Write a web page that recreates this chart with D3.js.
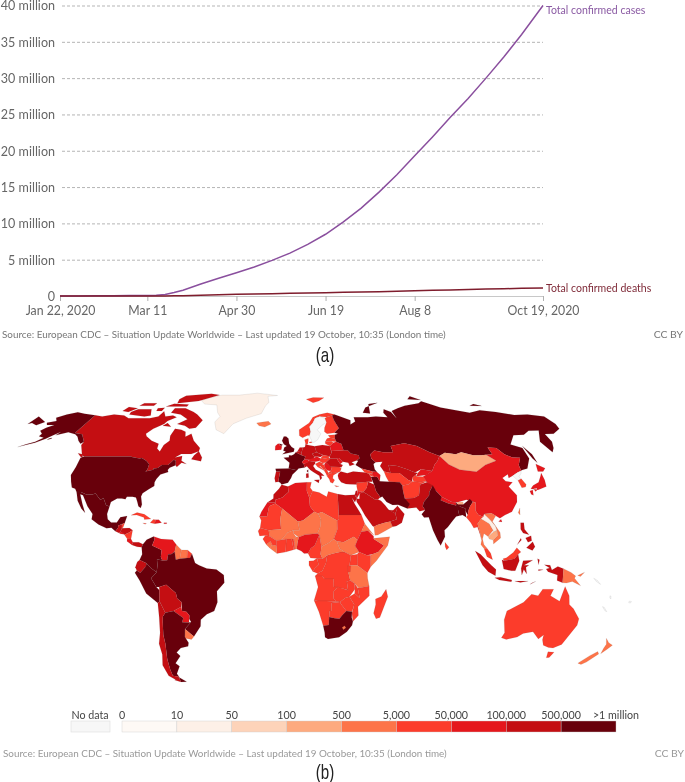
<!DOCTYPE html>
<html>
<head>
<meta charset="utf-8">
<script src="https://cdn.jsdelivr.net/npm/d3@7"></script>
<style>
html, body { margin: 0; padding: 0; background: #fff; }
svg { display: block; filter: blur(0.3px); }
text { font-family: Lato, "Open Sans", sans-serif; }
</style>
</head>
<body>
<script>
// chart (a) values
var dateValues = ["2020-01-22","2020-02-01","2020-02-11","2020-02-21","2020-03-01","2020-03-11","2020-03-16","2020-03-21","2020-03-26","2020-03-31","2020-04-10","2020-04-20","2020-04-30","2020-05-10","2020-05-20","2020-05-30","2020-06-09","2020-06-19","2020-06-29","2020-07-09","2020-07-19","2020-07-29","2020-08-08","2020-08-18","2020-08-28","2020-09-07","2020-09-17","2020-09-27","2020-10-07","2020-10-19"];
var casesValues = [0.0006,0.012,0.03,0.05,0.06,0.08,0.12,0.22,0.47,0.8,1.65,2.45,3.2,4.0,4.9,5.9,7.1,8.5,10.2,12.1,14.3,16.7,19.3,21.9,24.6,27.2,30.0,32.9,36.0,40.0];
var deathsValues = [0,0.0003,0.001,0.002,0.003,0.0046,0.007,0.013,0.025,0.042,0.1,0.165,0.23,0.28,0.325,0.37,0.41,0.455,0.5,0.55,0.6,0.66,0.72,0.78,0.84,0.89,0.95,1.0,1.05,1.11];
var yTicks = [0,5,10,15,20,25,30,35,40];
var xTickDates = ["2020-01-22","2020-03-11","2020-04-30","2020-06-19","2020-08-08","2020-10-19"];
var xTickLabels = ["Jan 22, 2020","Mar 11","Apr 30","Jun 19","Aug 8","Oct 19, 2020"];
var seriesLabels = ["Total confirmed cases","Total confirmed deaths"];
var sourceText = "Source: European CDC – Situation Update Worldwide – Last updated 19 October, 10:35 (London time)";

// chart (b) legend
var legendBreaks = ["0","10","50","100","500","5,000","50,000","100,000","500,000",">1 million"];
var binColors = ["#fef9f5","#fdf0e7","#fdd3b9","#fdaa7f","#fd7449","#fc3c2b","#e5171c","#c40e12","#68000b"];
var noDataColor = "#f7f7f7";

// Robinson table
var robLat = d3.range(0, 95, 5);
var robLength = [1,.9986,.9954,.99,.9822,.973,.96,.9427,.9216,.8962,.8679,.835,.7986,.7597,.7186,.6732,.6213,.5722,.5322];
var robDepth = [0,.062,.124,.186,.248,.31,.372,.434,.4958,.5571,.6176,.6769,.7346,.7903,.8435,.8936,.9394,.9761,1];

// country outlines: name, colour bin (-1 = no data), rings in lon/lat
var americas = [
 ["Greenland",1,[[[-73,78.2],[-68,76],[-58,75.5],[-54,71],[-51,69],[-53,66],[-50,62],[-44,60],[-40,65],[-32,68],[-22,70.5],[-20,75],[-18,77],[-20,81],[-12,81.7],[-30,83.5],[-45,82],[-60,82],[-68,80]]]],
 ["Canada",7,[[[-141,69.6],[-135,69],[-128,70],[-120,69.5],[-115,68],[-108,68],[-100,68],[-95,69],[-94,71.8],[-90,69],[-85,69.5],[-81.5,68.5],[-86,66.5],[-87,65],[-92,62.5],[-94.5,60],[-93,58.7],[-88,56.5],[-82.5,55],[-82,52.8],[-79.5,51.3],[-79,54.5],[-76.7,56.5],[-78,59],[-77.5,62.5],[-73,62],[-69.5,61],[-68,58.5],[-65,60],[-61.5,56.5],[-56,53],[-56,51.5],[-60,50.2],[-66,50.2],[-69,48.5],[-65,49.2],[-64.5,47],[-61,45.5],[-64,46],[-66,44],[-67,44.9],[-67.8,47],[-69.2,47.4],[-70.3,46.2],[-71.5,45],[-75,45],[-76.8,43.6],[-79,43.3],[-79,42.8],[-83.1,42],[-82.4,43],[-82.5,45.3],[-84.9,46.9],[-88.4,48.3],[-89.6,48],[-94.6,48.7],[-95.2,49],[-123,49],[-124.7,49.5],[-130,54.5],[-130,56],[-135.5,59.7],[-141,60.3]],
  [[-80,73.5],[-72,71.5],[-68,70],[-62,67],[-64,63],[-68,62.5],[-72,64],[-78,65],[-73,67.5],[-80,70],[-88,71],[-88,73.5]],
  [[-117,70],[-105,69],[-101,69.5],[-105,73],[-115,73],[-118,71.5]],
  [[-125,72],[-120,71.5],[-116,73.5],[-124,74.3]],
  [[-90,76.5],[-75,78],[-62,82],[-70,83],[-90,81.5],[-92,79]],
  [[-117,75],[-106,75],[-106,76.5],[-116,76.5]],
  [[-96,74.5],[-80,74.5],[-80,75.7],[-92,76.2]],
  [[-59,47.7],[-53,46.7],[-53,48.5],[-56,51.5],[-58,49.5]],
  [[-87,64],[-81,63.5],[-85,65.5]],
  [[-128,50.5],[-125,50],[-123.5,48.5],[-125,48.8]],
  [[-100,72],[-96,72],[-96,73.8],[-101,73.6]]]],
 ["USA",8,[[[-124.7,48.4],[-123,49],[-95.2,49],[-94.6,48.7],[-89.6,48],[-88.4,48.3],[-84.9,46.9],[-82.5,45.3],[-82.4,43],[-83.1,42],[-79,42.8],[-79,43.3],[-76.8,43.6],[-75,45],[-71.5,45],[-70.3,46.2],[-69.2,47.4],[-67.8,47],[-67,44.9],[-70,43.7],[-70.7,42.7],[-70,41.7],[-74,40.6],[-75.5,38.5],[-76,37],[-75.6,35.3],[-78,33.9],[-81,32],[-81.4,30.5],[-80.1,26.8],[-80.4,25.2],[-81.8,26],[-82.8,28],[-84,30],[-86,30.4],[-89,30.3],[-89.5,29.2],[-91.5,29.5],[-94,29.6],[-97,28],[-97.2,25.9],[-99.2,26.5],[-101.4,29.7],[-103,29],[-104.9,30.6],[-106.5,31.8],[-108.2,31.4],[-111,31.3],[-114.8,32.5],[-117.1,32.5],[-118.5,34],[-120.6,34.6],[-122.4,37.2],[-124.3,40.3],[-124,44]],
  [[-156.7,71.3],[-150,70.4],[-141,69.6],[-141,60.3],[-135.5,59.7],[-130,56],[-131,55],[-134,56.5],[-137,58.5],[-140,59.7],[-146,60.8],[-149,60],[-152,59.2],[-151,61],[-154,59],[-156,57.5],[-160,55.5],[-164,54.6],[-168,53.5],[-164.5,54.8],[-160.5,56],[-158,58],[-162,58.7],[-162,60],[-165.5,61.5],[-164,63],[-161,64.5],[-166,64.5],[-168,65.6],[-163,66.5],[-166.5,68.3],[-162,70]],
  [[-154.5,57],[-152.5,57.5],[-152.5,58],[-154,57.6]]]],
 ["Mexico",8,[[[-117.1,32.5],[-114.8,32.5],[-111,31.3],[-108.2,31.4],[-106.5,31.8],[-104.9,30.6],[-103,29],[-101.4,29.7],[-99.2,26.5],[-97.2,25.9],[-97.8,22.5],[-97,20],[-95,18.6],[-92,18.6],[-90.5,21],[-87,21.5],[-87.8,18.3],[-89,17.9],[-91,17.2],[-91,16],[-92.2,14.6],[-94.5,16.2],[-97,15.9],[-101.5,17.6],[-105.5,20],[-105.5,22.5],[-109,26],[-113,31],[-114.7,31.5],[-112,27],[-109.6,23],[-112,25],[-115,28.5]]]],
 ["Guatemala",7,[[[-92.2,14.6],[-91,16],[-91,17.2],[-89.2,17.8],[-88.9,16],[-89.5,14.3],[-90.2,13.8]]]],
 ["Belize",5,[[[-89,17.9],[-87.8,18.3],[-88.4,16.3],[-89.2,15.9]]]],
 ["Honduras",7,[[[-89.5,14.3],[-88.9,15.9],[-85,16],[-83.2,15],[-85,14],[-87.3,13]]]],
 ["El Salvador",6,[[[-90.2,13.8],[-89.5,14.3],[-87.7,13.8],[-87.8,13.2],[-89.5,13.4]]]],
 ["Nicaragua",5,[[[-87.3,13],[-85,14],[-83.2,15],[-83.7,11],[-85.7,11.1]]]],
 ["Costa Rica",6,[[[-85.7,11.1],[-83.7,11],[-82.6,9.5],[-83,8.3],[-85.7,10]]]],
 ["Panama",7,[[[-83,8.3],[-82.6,9.5],[-79.5,9.5],[-77.3,8.6],[-77.9,7.2],[-80.3,7.4]]]],
 ["Cuba",5,[[[-85,21.9],[-82,23.1],[-78,22.3],[-74.2,20.2],[-77.7,19.9],[-78,20.8],[-82,22]]]],
 ["Jamaica",5,[[[-78.3,18.3],[-76.3,18.1],[-77,17.8]]]],
 ["Haiti",5,[[[-74.4,18.4],[-72,18],[-71.7,19.8],[-73,19.9]]]],
 ["Dominican Republic",6,[[[-72,18],[-68.4,18.5],[-70,19.8],[-71.7,19.8]]]],
 ["Puerto Rico",6,[[[-67.2,18],[-65.7,18],[-65.7,18.5],[-67.2,18.5]]]],
 ["Colombia",8,[[[-77.3,8.6],[-75.5,10.7],[-72,12.2],[-71.3,11],[-72.5,8],[-70,7],[-67.5,6],[-67.8,2.8],[-67,1.2],[-69.8,1.7],[-69.5,-1],[-70,-4.2],[-73,-2.3],[-75.2,-0.1],[-78.8,1.4],[-77.5,4],[-77.9,7.2]]]],
 ["Venezuela",6,[[[-72,12.2],[-68,11],[-62,10.7],[-60,8.5],[-60.7,5.2],[-62.5,4],[-64,4],[-64.5,1.3],[-67,1.2],[-67.8,2.8],[-67.5,6],[-70,7],[-72.5,8],[-71.3,11]]]],
 ["Guyana",4,[[[-60,8.5],[-57.2,6],[-58,2],[-60,1.5],[-60.7,5.2]]]],
 ["Suriname",4,[[[-57.2,6],[-54,5.9],[-54.2,2.3],[-58,2]]]],
 ["French Guiana",5,[[[-54,5.9],[-51.7,4.2],[-52.7,2.3],[-54.2,2.3]]]],
 ["Ecuador",7,[[[-78.8,1.4],[-75.2,-0.1],[-75.5,-1.5],[-78.5,-4.5],[-80.3,-3.4],[-81,-2],[-80,0.5]]]],
 ["Peru",8,[[[-81.3,-4.5],[-80.3,-3.4],[-78.5,-4.5],[-75.5,-1.5],[-75.2,-0.1],[-73,-2.3],[-70,-4.2],[-73,-7],[-70.5,-11],[-69,-12.5],[-69.4,-17.5],[-70.4,-18.3],[-76,-14],[-79,-8]]]],
 ["Brazil",8,[[[-51.7,4.2],[-50,0],[-48,-1],[-44,-2.5],[-39,-3],[-35.2,-5.5],[-35,-9],[-39,-13],[-39,-18],[-41,-22],[-45,-23.5],[-48.5,-26],[-49,-29],[-53.4,-33.7],[-57.6,-30.2],[-53.8,-27],[-54.6,-25.5],[-54.3,-24],[-55.8,-22.3],[-58,-22],[-57.8,-18],[-60,-16.3],[-60.5,-13.7],[-65.3,-10],[-69,-11],[-70.5,-11],[-73,-7],[-70,-4.2],[-69.5,-1],[-69.8,1.7],[-67,1.2],[-64.5,1.3],[-64,4],[-62.5,4],[-60.7,5.2],[-60,1.5],[-58,2],[-54.2,2.3],[-52.7,2.3]]]],
 ["Bolivia",7,[[[-69,-11],[-65.3,-10],[-60.5,-13.7],[-60,-16.3],[-57.8,-18],[-58.2,-20],[-62.5,-22],[-67,-22.8],[-69.4,-17.5],[-69,-12.5]]]],
 ["Paraguay",6,[[[-58,-22],[-55.8,-22.3],[-54.3,-24],[-54.6,-25.5],[-55,-27.3],[-58.6,-27.2],[-57.7,-25.2],[-62.5,-22],[-58.2,-20]]]],
 ["Uruguay",4,[[[-58.4,-33.9],[-57.6,-30.2],[-53.4,-33.7],[-55,-35],[-58.4,-34.5]]]],
 ["Argentina",8,[[[-67,-22.8],[-62.5,-22],[-57.7,-25.2],[-58.6,-27.2],[-55,-27.3],[-53.8,-27],[-57.6,-30.2],[-58.4,-33.9],[-57,-36.5],[-57.7,-38.2],[-62,-39],[-65,-41],[-63.5,-42.7],[-67.5,-46],[-65.8,-47.5],[-69,-51],[-68.4,-52.4],[-72,-52],[-72,-49],[-71.5,-44],[-70,-37],[-70,-33],[-69,-27],[-68.5,-24.5]],
  [[-68.6,-52.6],[-65,-54.8],[-68.6,-54.9]]]],
 ["Chile",7,[[[-69.4,-17.5],[-67,-22.8],[-68.5,-24.5],[-69,-27],[-70,-33],[-70,-37],[-71.5,-44],[-72,-49],[-72,-52],[-68.4,-52.4],[-71,-54],[-74.5,-52],[-75.5,-47],[-73.5,-42],[-73.5,-37],[-71.5,-32],[-70.5,-25],[-70.4,-18.3]],
  [[-68.6,-52.6],[-68.6,-54.9],[-72,-54]]]]
];

var europe = [
 ["Iceland",4,[[[-24,65.5],[-22,64],[-18,63.4],[-14,65],[-16,66.4],[-20,66]]]],
 ["Svalbard",5,[[[12,79],[17,76.8],[22,78],[27,80],[18,80.2]]]],
 ["Norway",5,[[[5,59],[7,58],[10.5,59.2],[11.5,59],[12.5,61],[12,63.5],[14.5,65.5],[16.5,68],[20,69],[25,68.7],[29,69.5],[31,70],[26,71],[20,70],[15,68.5],[12,65.5],[5,62]]]],
 ["Sweden",-1,[[[11.5,59],[13,55.5],[14.5,56],[16.5,57],[19,60],[17,62],[21,64.5],[24,65.8],[23.5,68],[20,69],[16.5,68],[14.5,65.5],[12,63.5],[12.5,61]]]],
 ["Finland",5,[[[24,65.8],[22,63],[21.5,61],[23,60],[28,60.5],[31.5,62.8],[29.5,67],[29,69.5],[25,68.7],[23.5,68]]]],
 ["Denmark",5,[[[8.7,54.9],[10,54.8],[10.5,56.5],[10.6,57.7],[8.2,57]],[[11,55.5],[12.5,55.4],[12.5,56.1],[11,55.9]]]],
 ["UK",8,[[[-5.5,50],[1.3,51.2],[1.7,52.7],[0,53.5],[-1.5,55],[-2,57.6],[-3.5,58.6],[-5,58.6],[-6,56.5],[-4.8,54.8],[-3,54],[-4.5,53.3],[-5,51.7],[-3.5,51.3]],[[-7.3,55.1],[-5.5,54.6],[-6.2,54.1],[-7.5,54.3]]]],
 ["Ireland",6,[[[-10,52],[-6.3,52.2],[-6,53.5],[-6.2,54.1],[-7.5,54.3],[-7.3,55.1],[-8.5,55],[-10,54]]]],
 ["Spain",8,[[[-9.2,43.2],[-1.7,43.4],[3.1,42.5],[0.5,40.6],[-0.3,39],[-2,36.8],[-5.5,36],[-6.4,36.9],[-7.4,37.2],[-7,39.5],[-6.5,41.9],[-8.8,42]]]],
 ["Portugal",7,[[[-8.8,42],[-6.5,41.9],[-7,39.5],[-7.4,37.2],[-9,37],[-9.5,38.8]]]],
 ["France",8,[[[-1.7,43.4],[3.1,42.5],[4,43.4],[7.5,43.8],[7,45.5],[6,46.3],[7.5,47.6],[8.2,49],[6,49.5],[2.5,51],[1.5,50],[0,49.4],[-1.6,49.6],[-1.6,48.6],[-4.7,48.4],[-1.2,46]],[[8.6,42.2],[9.4,41.5],[9.5,42.9]]]],
 ["Belgium",7,[[[2.5,51],[3.5,51.4],[6,51],[6,49.5]]]],
 ["Netherlands",7,[[[3.5,51.4],[6,51],[7,53.3],[5,53.3]]]],
 ["Germany",7,[[[6,51],[6,49.5],[8.2,49],[7.5,47.6],[9.6,47.5],[13,47.5],[13,48.3],[13.8,48.8],[12.2,50.3],[15,51],[14.2,53.9],[10,54.5],[8.7,54.9],[8.2,53.5],[7,53.3]]]],
 ["Italy",7,[[[7.5,43.8],[8.8,44.4],[10.5,42.8],[12.3,41.7],[15.6,40],[16,38],[17,39],[16.6,40],[18.4,40],[16,41.8],[13.8,42.8],[12.4,44.5],[13.7,45.7],[13.7,46.5],[10.5,46.9],[7,45.5]],[[12.5,38],[15.5,38.2],[15,36.7]],[[8.2,39],[9.6,39.2],[9.5,41.2],[8.2,40.9]]]],
 ["Switzerland",6,[[[6,46.3],[7,45.5],[10.5,46.5],[9.6,47.5],[7.5,47.6]]]],
 ["Austria",6,[[[9.6,47.5],[10.5,46.9],[13.7,46.5],[16.2,46.9],[17,48],[15,49],[13,48.3]]]],
 ["Poland",7,[[[14.2,53.9],[15,51],[19,49.5],[22.5,49.1],[24,50.5],[23.5,54],[19,54.4]]]],
 ["Czechia",7,[[[12.2,50.3],[13.8,48.8],[15,49],[17,48.7],[18.8,49.5],[15,51]]]],
 ["Slovakia",5,[[[17,48],[18.8,49.5],[22.5,49.1],[22,48.4],[18,47.8]]]],
 ["Hungary",5,[[[16.2,46.9],[17,48],[18,47.8],[22,48.4],[22.8,48],[20,46.2],[18,45.9]]]],
 ["Croatia",5,[[[13.7,45.5],[16.2,46.5],[19,45.5],[16,44.5],[18.5,42.4],[15,44]]]],
 ["Bosnia",5,[[[16,45],[19,45],[19.3,43.5],[18.5,42.6]]]],
 ["Serbia",6,[[[19,45.5],[20,46.2],[22.5,44.5],[22.9,43],[22,42.2],[20.2,42.5],[19.3,43.5],[19,45]]]],
 ["Albania",5,[[[18.5,42.4],[19.3,43.5],[20.2,42.5],[21,41],[20,39.7],[19.4,41]]]],
 ["North Macedonia",5,[[[20.5,41],[22,42.2],[23,41.3]]]],
 ["Bulgaria",5,[[[22.9,43],[22.5,44.2],[27.5,44],[28.5,43.3],[27.6,42],[26,41.4],[23,41.3],[22,42.2]]]],
 ["Romania",7,[[[20,46.2],[22.8,48],[26.5,48.2],[28.2,45.5],[29.6,45],[28.5,43.8],[27.5,44],[22.5,44.2]]]],
 ["Moldova",6,[[[26.5,48.2],[28,48.3],[30,46.5],[28.2,45.5]]]],
 ["Greece",5,[[[20,39.7],[21,41],[23,41.3],[26,41.4],[23.5,40.2],[23,38.8],[24,38],[22.8,36.5],[21.5,37],[21,38.5]],[[23.6,35.5],[26.2,35.2],[24.5,34.9]]]],
 ["Ukraine",7,[[[24,50.5],[22.5,49.1],[22.8,48],[26.5,48.2],[28,48.3],[30,46.5],[33,46],[33.5,44.5],[36.5,45.3],[35,46.3],[38,47.1],[40,48],[40,49.6],[35.5,50.4],[34,52],[31.5,52],[24,51.6]]]],
 ["Belarus",6,[[[23.5,54],[24,51.6],[31.5,52],[30.8,55],[28,56],[26,55.5]]]],
 ["Lithuania",5,[[[21,56],[21,55],[23.5,54],[26,55.5],[25,56.3]]]],
 ["Latvia",5,[[[21,56],[25,56.3],[28,56],[27.5,57.5],[24.5,58],[22.5,57.6]]]],
 ["Estonia",5,[[[23.5,59.2],[28,59.5],[27.5,57.5],[24.5,58]]]]
];

var asia = [
 ["Russia",8,[[[28,59.5],[30,60],[28,60.5],[31.5,62.8],[29.5,67],[29,69.5],[31,70],[41,67],[40,64.7],[44,66.3],[44,68.5],[54,68.5],[60,69],[68,68.5],[67,71],[69,73],[73,71.5],[74,68],[74,72],[80,73.5],[87,75],[100,76.5],[104,77.7],[113,74],[130,71],[140,72.5],[150,71.5],[160,69.7],[170,70],[180,69],[180,65],[178,62.5],[170,60],[164,59.8],[163,56],[160,53],[157,51],[155.5,56],[163,61.7],[156,61.5],[150,59.5],[143,59.3],[135.5,54.7],[141,53],[140,48],[135,43.3],[131,42.5],[130.7,42.3],[131.3,45],[135,48.4],[130.5,48.5],[127,50],[125,53],[120,53.3],[119.8,50],[116,49.8],[113,49.6],[108,49.5],[102,51],[98,50],[92,50.8],[87.8,49.2],[83,51],[77,54],[70,55.3],[61,54],[61,51],[55,51],[50,51.8],[47,50],[47,48],[49,46.3],[47.5,45.5],[47.5,43],[48.4,41.7],[46,42],[40,43.4],[37,45],[39,47],[38,47.1],[40,48],[40,49.6],[35.5,50.4],[34,52],[31.5,52],[30.8,55],[28,56],[27.5,57.5]],
  [[-180,68.9],[-175,67.5],[-170,66],[-173,64.3],[-178,65.5],[-180,65]],
  [[142,54],[143.5,50],[143,46],[142,48]],
  [[52,71],[57,70.6],[60,76],[68,76.8],[56,74]],
  [[95,79],[105,78.5],[100,81]],
  [[137,75],[146,74.8],[142,76]]]],
 ["Kazakhstan",7,[[[47,50],[50,51.8],[55,51],[61,51],[61,54],[70,55.3],[77,54],[83,51],[87.8,49.2],[85.5,47],[82.8,45.2],[80,42.2],[74,43],[70,41.5],[66,43],[61,44.5],[56,45],[56,41.3],[52.5,42],[51,44.5],[53,46.5],[49,46.3],[47,48]]]],
 ["Mongolia",3,[[[87.8,49.2],[92,50.8],[98,50],[102,51],[108,49.5],[113,49.6],[116,49.8],[119.8,47],[112,45],[105,41.8],[96,42.8],[91,45.2]]]],
 ["China",6,[[[73.7,39.5],[80,42.2],[82.8,45.2],[85.5,47],[87.8,49.2],[91,45.2],[96,42.8],[105,41.8],[112,45],[119.8,47],[116,49.8],[119.8,50],[120,53.3],[125,53],[127,50],[130.5,48.5],[135,48.4],[131.3,45],[130.7,42.3],[128,41.5],[124.3,40],[121.5,39],[122,40.7],[118,39],[119,37.5],[122.5,37],[119.3,35],[122,31],[121,28],[117,23.5],[113,22],[110,20.5],[108,21.6],[106,22.8],[102,22.5],[101.5,21.2],[99,22],[97.7,24],[98.7,27.7],[94,29],[89,27.8],[86,28],[81,30.3],[78.8,33],[75,37]],[[109,19],[110.5,20],[110.8,18.8]]]],
 ["Taiwan",4,[[[120.2,23],[121.6,25.2],[121,22]]]],
 ["North Korea",-1,[[[124.3,40],[128,41.5],[130.7,42.3],[129.7,41],[127.5,39.5],[128.3,38.6],[126,37.8]]]],
 ["South Korea",5,[[[126,37.8],[128.3,38.6],[129.5,36],[128.5,34.8],[126.3,34.5]]]],
 ["Japan",6,[[[131,34],[135,33.6],[140,35],[141,38],[141.3,41.3],[140,40],[137,37],[133,35.5]],[[140,42],[141.5,45.4],[145.3,43.5],[143,42]],[[130,33],[131.8,33.5],[131,31],[130,31.5]],[[132.5,34],[134.5,34.2],[134,33.3],[133,32.8]]]],
 ["Kyrgyzstan",6,[[[74,43],[80,42.2],[76,40.4],[70,39.8],[71.5,41.3]]]],
 ["Uzbekistan",7,[[[56,41.3],[56,45],[61,44.5],[66,43],[70,41.5],[71.5,41.3],[70,40.5],[67.5,39],[67,37.3],[65,38],[61,41.3]]]],
 ["Turkmenistan",5,[[[52.5,42],[56,41.3],[61,41.3],[65,38],[67,37.3],[64.5,36],[61,35.5],[60,37],[54,37.2],[53,39.5]]]],
 ["Tajikistan",5,[[[70,40.5],[70,39.8],[74,39.5],[75,37.5],[71.5,37],[67.8,37.2],[67.5,39]]]],
 ["Afghanistan",5,[[[61,35.5],[64.5,36],[67,37.3],[71.5,37],[75,37.4],[71,36],[70,33.5],[69,31],[66,29.8],[61,29.5],[60.8,33]]]],
 ["Pakistan",7,[[[61,29.5],[66,29.8],[69,31],[70,33.5],[71,36],[75,37],[77.8,35.5],[75,32.5],[74.5,31],[71,28],[70,26],[71,24.3],[68,23.7],[66.5,25.4],[61.6,25]]]],
 ["Iran",8,[[[44.5,39.4],[48,39.5],[49,37.5],[54,37.2],[60,37],[61,35.5],[60.8,33],[61,29.5],[63.3,27],[61.6,25],[57,26.7],[54,26.6],[51,28],[49,30.5],[48,30],[46,33],[45.5,36]]]],
 ["Iraq",7,[[[42.4,37.2],[45.5,36],[46,33],[48,30],[47.7,30],[46.5,29.1],[44.7,29.2],[41,31.5],[39,32.5],[41.2,34.5]]]],
 ["Syria",5,[[[36,36.8],[42.4,37.2],[41.2,34.5],[39,32.5],[36,33],[35.8,35]]]],
 ["Jordan",6,[[[35,29.4],[37,31.8],[39,32.5],[36,33],[35.5,31.5]]]],
 ["Israel",7,[[[34.3,31.3],[35,29.5],[35.5,31.5],[35.8,33.2],[35,33]]]],
 ["Turkey",7,[[[26,40],[26.5,41],[28,42],[31.5,41.2],[35,42],[41.5,41.5],[43.5,41],[44.5,39.4],[44.8,37.2],[42.4,37.2],[36,36.8],[36,36],[32,36.1],[30,36.2],[27.5,37],[26.3,38.5]]]],
 ["Georgia",5,[[[40,43.4],[46,42],[46,41.2],[43.5,41],[41.5,41.5]]]],
 ["Armenia",5,[[[43.5,41],[45,41],[46.3,39.4],[44.5,39.8]]]],
 ["Azerbaijan",6,[[[46,42],[48.4,41.7],[50,40.3],[49,37.5],[48,39.5],[46.3,39.4],[45,41],[46,41.2]]]],
 ["Saudi Arabia",7,[[[34.8,29.5],[36.5,29.3],[37,31.8],[39,32.5],[41,31.5],[44.7,29.2],[46.5,29.1],[48,28.5],[50,26.5],[51.5,24.5],[55,22.7],[55.5,20],[52,19],[49,18.5],[45,17.4],[43.2,16.6],[42.5,17],[39,21.5],[37,25],[35,28]]]],
 ["Yemen",4,[[[43.2,16.6],[45,17.4],[49,18.5],[52,19],[53,16.6],[45,12.8],[43.5,12.7]]]],
 ["Oman",7,[[[52,19],[55.5,20],[55,22.7],[56,24.5],[56.4,26.3],[59.8,22.5],[58,18.5],[55,17],[53,16.6]]]],
 ["UAE",7,[[[51.5,24.2],[55,22.7],[56,24.5],[56.4,26],[54,24.2]]]],
 ["Nepal",6,[[[80,30],[81,30.3],[86,28],[88.2,27.8],[88,26.4],[84,27.3],[80.2,28.7]]]],
 ["India",8,[[[74.5,31],[75,32.5],[77.8,35.5],[78.8,33],[81,30.3],[80.2,28.7],[84,27.3],[88,26.4],[88.2,27.8],[88.8,27],[92,26.9],[96,29.3],[97.3,28],[95.3,26],[94,24],[93.3,22],[92.3,24],[92.5,25],[89.8,25.9],[88.5,24.5],[88.8,21.7],[87,21.3],[85,19.5],[82,16.5],[80,15],[80,12],[77.5,8],[76,10.5],[74,15],[72.7,20],[72.5,21],[70,20.8],[68.9,22.3],[71,24.3],[70,26],[71,28]]]],
 ["Bhutan",3,[[[88.8,27.8],[92,28],[92,26.9],[89,26.8]]]],
 ["Bangladesh",8,[[[88,26.4],[89.8,25.9],[92.5,25],[92.3,21],[90.5,22],[88.8,21.7],[88.5,24.5]]]],
 ["Sri Lanka",5,[[[79.8,9.5],[81.8,7.2],[80.5,6],[79.8,7.5]]]],
 ["Myanmar",5,[[[92.3,21],[93.3,22],[94,24],[95.3,26],[97.3,28],[98.7,27.7],[97.7,24],[99,22],[101.5,21.2],[100,20.3],[97.8,18],[98.5,14],[99,10.5],[98.5,13],[97.5,16.5],[95.5,16],[94.3,18.5]]]],
 ["Thailand",4,[[[100,20.3],[101.5,19.5],[104,18],[105.5,15],[102.5,12.2],[100.5,13.5],[99.5,11],[100,8.5],[101.5,6.8],[100,6.5],[98.4,8.5],[99,10.5],[98.5,14],[97.8,18]]]],
 ["Laos",1,[[[101.5,21.2],[102,22.5],[104.5,20],[107,17],[107.5,15],[105.5,14.2],[105.5,15],[104,18],[101.5,19.5],[100,20.3]]]],
 ["Vietnam",4,[[[102,22.5],[106,22.8],[108,21.6],[105.8,19],[109,14],[109,11.5],[105,8.7],[105,10.5],[107.5,12.5],[107.5,15],[107,17],[104.5,20]]]],
 ["Cambodia",3,[[[102.5,12.2],[105.5,14.2],[107.5,15],[107.5,12.5],[105,10.5],[103,11]]]],
 ["Malaysia",5,[[[100,6.5],[101.5,6.8],[103.3,4.5],[104.2,1.5],[101.3,2.9]],[[109.6,2],[111.4,2.4],[115,4.8],[117,7],[119,5],[117.5,4],[115.6,2],[113,1.5],[110,1]]]],
 ["Indonesia",7,[[[95.3,5.5],[98,4],[103.5,-1],[106,-3],[105.8,-5.8],[102,-4],[99,-1]],[[105.5,-6.8],[108.5,-6.5],[114.5,-7.8],[114.3,-8.6],[108,-7.8]],[[109,1.5],[110,1],[113,1.5],[115.6,2],[117.5,4],[118,1],[116,-3.5],[114,-3.6],[110,-2.8]],[[119.5,-5.5],[120.4,-3],[122,-5],[121.5,-2],[123,-1],[120.5,-1],[125,1.3],[120,1],[119,-2.5]],[[131,-0.8],[134,-1],[135,-3.2],[138,-1.6],[141,-2.6],[141,-9.1],[138,-8],[138,-5.5],[133,-4],[132,-2.8],[133.8,-2.3]],[[116,-8.3],[123,-8.3],[119,-8.9]],[[124,-9.8],[127,-8.4],[125,-9.2]],[[128,-3],[130.5,-3.1],[128,-3.5]],[[127.5,2],[128.5,1.5],[128,-0.8]]]],
 ["Papua New Guinea",4,[[[141,-2.6],[145,-4.3],[147.5,-6],[147,-7],[150.5,-10.4],[146,-8.5],[143,-9.2],[141,-9.1]],[[148.5,-5.7],[152,-4.2],[150,-6.2]]]],
 ["Philippines",7,[[[120.5,18.5],[122.2,18.4],[122,15.5],[124,13],[121,13.7],[120,15.5]],[[122,7],[125.5,9.7],[126.5,7.5],[125,5.7]],[[122,11.5],[125,12.5],[125,10.2],[123,9.5]],[[117.3,8.4],[119.5,11.3],[119.7,10.5]]]],
 ["Australia",5,[[[114,-22],[122,-18],[125.5,-14.3],[129,-15],[131,-12],[136.7,-12],[135.5,-15],[140.8,-17.5],[142.5,-10.8],[145.3,-15],[146.3,-19],[149,-21],[153.2,-25.5],[153.5,-28.5],[150,-37.3],[146.3,-39],[143.5,-38.7],[140,-37.7],[138,-35.2],[137.5,-33],[135.5,-34.8],[131,-31.5],[126,-32.3],[123.5,-33.9],[118,-35],[115,-34.3],[115.8,-32],[113.5,-26]],[[144.7,-40.7],[148.3,-40.9],[147.5,-43.3],[146,-43.5]]]],
 ["New Zealand",4,[[[172.7,-34.5],[175.5,-36.5],[178.5,-37.7],[177,-39.5],[175.3,-41.6],[174.7,-39],[174.7,-37.2]],[[172.7,-40.6],[174.3,-41.7],[171,-45.5],[169,-46.6],[166.5,-46],[170,-42.5]]]],
 ["New Caledonia",-1,[[[164,-20],[165,-20.3],[167,-22.3],[166,-22]]]],
 ["Fiji",-1,[[[177.3,-17.5],[178.6,-17.6],[178.3,-18.3],[177.3,-18.2]]]],
 ["Solomon Islands",-1,[[[157,-7],[159,-8],[160.8,-9.8],[158.5,-8.5]]]],
 ["Vanuatu",-1,[[[166.6,-15],[167.2,-15.2],[167.5,-16.5],[166.8,-16]]]]
];

var africa = [
 ["Morocco",7,[[[-13,27.7],[-8.7,27.7],[-8.7,29],[-5,30],[-1.7,32.5],[-2,35],[-5.5,35.9],[-6.9,34],[-9.8,31.4],[-9.8,29.5]]]],
 ["Western Sahara",6,[[[-17,21.3],[-13,21.3],[-12,26],[-8.7,27.3],[-8.7,27.7],[-13,27.7],[-16,23.5]]]],
 ["Algeria",6,[[[-8.7,27.3],[-8.7,29],[-5,30],[-1.7,32.5],[-2,35],[2,36.7],[8.5,37],[8.3,33],[9.5,30],[9.8,26],[12,23.5],[6,19.5],[3.3,19],[-5,25]]]],
 ["Tunisia",5,[[[8.5,37],[11,37],[10.2,34.5],[11.5,33],[10,30.3],[9.5,30],[8.3,33]]]],
 ["Libya",5,[[[11.5,33],[15,32.3],[19,30.3],[20,32.8],[25,31.6],[25,20],[24,19.5],[16,23.4],[14,22.7],[12,23.5],[9.8,26],[9.5,30],[10,30.3]]]],
 ["Egypt",7,[[[25,31.6],[29,31],[32,31.2],[34.3,31.3],[35,29.5],[34,27.8],[32.5,30],[33.8,27],[35.8,23.9],[37,22],[25,22]]]],
 ["Mauritania",5,[[[-17,21.3],[-13,21.3],[-12,26],[-8.7,27.3],[-5,25],[-6,20],[-5.5,15.5],[-12,15],[-16.5,16],[-16,19.5]]]],
 ["Mali",4,[[[-5,25],[3.3,19],[4.2,15],[1,15],[-2,14],[-5.5,10.5],[-8,10.3],[-11.5,12.3],[-12,15],[-5.5,15.5],[-6,20]]]],
 ["Niger",4,[[[3.3,19],[6,19.5],[12,23.5],[14,22.7],[15.5,20],[15,16.5],[13.5,13.5],[7,13],[3.7,11.8],[1,13.5],[1,15],[4.2,15]]]],
 ["Chad",4,[[[14,22.7],[16,23.4],[24,19.5],[24,15.5],[22,11],[19,9],[15.5,7.5],[14.5,12.8],[13.5,13.5],[15,16.5],[15.5,20]]]],
 ["Sudan",5,[[[25,22],[37,22],[38.5,18],[36.5,14.3],[34.3,10.5],[32.5,12],[27,9.5],[23.5,10],[22,11],[24,15.5],[24,19.5],[25,20]]]],
 ["South Sudan",4,[[[23.5,10],[27,9.5],[32.5,12],[34.3,10.5],[33,7.8],[35,5],[30.8,3.6],[27.5,5],[25,6.5]]]],
 ["Eritrea",4,[[[36.5,14.3],[38.5,18],[43,12.7],[40,14.8]]]],
 ["Ethiopia",6,[[[36.5,14.3],[40,14.8],[42.8,12.3],[42.8,11],[48,8],[45,5],[41.9,4],[39,3.5],[35,5],[33,7.8],[34.3,10.5]]]],
 ["Somalia",4,[[[43,11.3],[51.2,12],[50,8],[44,1],[41,-1.7],[41,3.5],[41.9,4],[45,5],[48,8],[42.8,11]]]],
 ["Kenya",5,[[[35,5],[39,3.5],[41,3.5],[41,-1.7],[39.3,-4.6],[34,-1],[34,4]]]],
 ["Uganda",5,[[[30.8,3.6],[34,4],[34,-1],[30,-1.2]]]],
 ["Democratic Republic of Congo",5,[[[12.2,-6],[13.5,-4.8],[16,-3.5],[17.8,0],[18.5,3.5],[22,4.5],[25,5],[27.5,5],[30.8,3.6],[30,-1.2],[29.5,-4.5],[30.5,-8],[28.7,-8.5],[29.5,-12.5],[27,-11.8],[22,-11],[21.8,-7.3],[17,-7.3],[16,-6]]]],
 ["Tanzania",4,[[[30,-1.2],[34,-1],[39.3,-4.6],[39.5,-7],[40.4,-10.5],[35,-11.5],[32.7,-9.3],[30.5,-8],[29.5,-4.5]]]],
 ["Rwanda",5,[[[29,-1.3],[30.7,-1.3],[30.5,-4],[29.2,-4.2]]]],
 ["Congo",5,[[[11,-3.9],[13.5,-4.8],[16,-3.5],[17.8,0],[18.5,3.5],[16,2],[13.2,2.2],[14,-0.8],[12,-2.5]]]],
 ["Gabon",5,[[[9,0.9],[11.3,1],[13.2,2.2],[14,-0.8],[12,-2.5],[11,-3.9],[9,-1]]]],
 ["Cameroon",5,[[[8.5,4.5],[9.8,2.3],[16,2],[15,4],[15.5,7.5],[14.5,12.8],[13.5,11],[12,8],[10,6.8]]]],
 ["Central African Republic",4,[[[15,4],[16,2],[18.5,3.5],[22,4.5],[25,5],[27.5,5],[25,6.5],[23.5,10],[22,11],[19,9],[15.5,7.5]]]],
 ["Nigeria",6,[[[2.7,6.4],[5,5.5],[6.5,4.3],[8.5,4.5],[10,6.8],[12,8],[13.5,11],[14.5,12.8],[13.5,13.5],[7,13],[3.7,11.8],[3,9]]]],
 ["Benin",4,[[[1.7,6.3],[2.7,6.4],[3,9],[3.7,11.8],[2.3,12],[1,11],[1.5,9]]]],
 ["Togo",5,[[[1.1,6.1],[1.7,6.3],[1.5,9],[1,11],[0,11]]]],
 ["Ghana",5,[[[-3.1,5],[1.1,6.1],[0,11],[-2.8,11],[-3,7]]]],
 ["Burkina Faso",4,[[[-5.5,10.5],[-2.8,11],[0,11],[1,11],[2.3,12],[1,13.5],[1,15],[-2,14]]]],
 ["Cote d'Ivoire",5,[[[-7.6,4.4],[-3.1,5],[-3,7],[-2.8,11],[-5.5,10.5],[-8,10.3],[-8,8]]]],
 ["Liberia",4,[[[-11.4,6.9],[-7.6,4.4],[-8,8],[-10,8.3]]]],
 ["Sierra Leone",4,[[[-13.2,8.5],[-11.4,6.9],[-10,8.3],[-11,10]]]],
 ["Guinea",5,[[[-15,11],[-13.2,8.5],[-11,10],[-10,8.3],[-8,8],[-8,10.3],[-11.5,12.3],[-13.7,12.6]]]],
 ["Senegal",5,[[[-17.5,14.7],[-16.5,16],[-12,15],[-11.5,12.3],[-13.7,12.6],[-16.7,12.4]]]],
 ["Angola",5,[[[11.8,-17.2],[13.8,-11],[12.2,-6],[16,-6],[17,-7.3],[21.8,-7.3],[22,-11],[24,-11],[22,-13],[22,-16.3],[23.4,-17.6],[18.5,-17.4],[13.8,-17.4]]]],
 ["Zambia",5,[[[22,-13],[24,-11],[27,-11.8],[29.5,-12.5],[28.7,-8.5],[30.5,-8],[32.7,-9.3],[33,-12],[30.3,-15.5],[28,-16],[25.5,-17.9],[23.4,-17.6],[22,-16.3]]]],
 ["Malawi",5,[[[32.7,-9.3],[34.5,-11.5],[35.7,-16],[33,-14],[33,-12]]]],
 ["Mozambique",5,[[[35,-11.5],[40.4,-10.5],[40.7,-15],[35,-20],[35.5,-24],[32.8,-26.8],[32,-23],[33,-19],[30.3,-15.5],[33,-14],[35.7,-16],[34.5,-11.5]]]],
 ["Zimbabwe",5,[[[25.5,-17.9],[28,-16],[30.3,-15.5],[33,-19],[32,-22.3],[29,-22],[26,-18.8]]]],
 ["Namibia",5,[[[11.8,-17.2],[13.8,-17.4],[18.5,-17.4],[23.4,-17.6],[25.5,-17.9],[21,-18.3],[21,-22],[20,-22],[20,-28.4],[17,-28.7],[14.5,-22.5]]]],
 ["Botswana",5,[[[21,-18.3],[25.5,-17.9],[26,-18.8],[29,-22],[27,-23.8],[25.5,-25.6],[23,-25.3],[20,-24.8],[20,-22],[21,-22]]]],
 ["South Africa",8,[[[17,-28.7],[20,-28.4],[20,-24.8],[23,-25.3],[25.5,-25.6],[27,-23.8],[29,-22],[32,-22.3],[32,-25],[32.8,-26.8],[32.5,-28.5],[30,-31.5],[26,-34],[20,-34.8],[18.3,-34],[18,-32]]]],
 ["Lesotho",4,[[[27.2,-29.5],[28.5,-28.7],[29.3,-29.7],[28,-30.6]]]],
 ["Madagascar",5,[[[49.3,-12],[50.4,-15.5],[47,-25],[45,-25.5],[43.5,-23],[44.3,-19],[44,-16.5],[47,-15.3]]]]
];

var svg = d3.select("body").append("svg").attr("width", 685).attr("height", 782);

// the reference text is narrower than Lato, so squeeze it
var squeeze = function (sel, k) {
    sel.each(function () {
        d3.select(this).attr("textLength", this.getComputedTextLength() * k)
            .attr("lengthAdjust", "spacingAndGlyphs");
    });
    return sel;
};

// ---- chart (a) ----
var parseDay = d3.utcParse("%Y-%m-%d");
var dates = dateValues.map(parseDay);
var plotLeft = 60, plotRight = 543, plotTop = 5.5, plotBottom = 296;

var x = d3.scaleUtc().domain([dates[0], dates[dates.length - 1]]).range([plotLeft, plotRight]);
var y = d3.scaleLinear().domain([0, 40]).range([plotBottom, plotTop]);

// horizontal dashed grid with the labels
var yAxis = d3.axisLeft(y).tickValues(yTicks).tickSize(0).tickPadding(5)
    .tickFormat(function (d) { return d == 0 ? "0" : d + " million"; });
var yGroup = svg.append("g").attr("transform", "translate(" + plotLeft + ",0)").call(yAxis);
yGroup.select(".domain").remove();
yGroup.selectAll("text").attr("font-size", "13.5px").attr("fill", "#666").call(squeeze, 0.93);
yGroup.selectAll(".tick").filter(function (d) { return d != 0; }).append("line")
    .attr("x1", 2).attr("x2", plotRight - plotLeft)
    .attr("stroke", "#b5b5b5").attr("stroke-dasharray", "3,2");

var xTickParsed = xTickDates.map(parseDay);
var xAxis = d3.axisBottom(x).tickValues(xTickParsed).tickSize(5).tickPadding(4).tickSizeOuter(0)
    .tickFormat(function (d, i) { return xTickLabels[i]; });
var xGroup = svg.append("g").attr("transform", "translate(0," + plotBottom + ")").call(xAxis);
xGroup.select(".domain").attr("stroke", "#c8c8c8");
xGroup.selectAll("line").attr("stroke", "#b0b0b0");
xGroup.selectAll("text").attr("font-size", "13.5px").attr("fill", "#666").call(squeeze, 0.91);

var lineOf = function (vals) {
    return d3.line().x(function (d, i) { return x(dates[i]); }).y(function (d) { return y(d); })(vals);
};
svg.append("path").attr("d", lineOf(casesValues)).attr("fill", "none").attr("stroke", "#8a4f9e").attr("stroke-width", 1.5);
svg.append("path").attr("d", lineOf(deathsValues)).attr("fill", "none").attr("stroke", "#7f1d2d").attr("stroke-width", 1.5);

svg.append("text").text(seriesLabels[0]).attr("x", 546).attr("y", 14)
    .attr("font-size", "11.4px").attr("fill", "#8a5aa3").call(squeeze, 0.925);
svg.append("text").text(seriesLabels[1]).attr("x", 546).attr("y", 292)
    .attr("font-size", "11.4px").attr("fill", "#7f2a38").call(squeeze, 0.925);

svg.append("text").text(sourceText).attr("x", 2).attr("y", 338)
    .attr("font-size", "10.4px").attr("fill", "#777").call(squeeze, 0.95);
svg.append("text").text("CC BY").attr("x", 683).attr("y", 338).attr("text-anchor", "end")
    .attr("font-size", "10.4px").attr("fill", "#777");
svg.append("text").text("(a)").attr("x", 325).attr("y", 362).attr("text-anchor", "middle")
    .style("font-family", "'Liberation Sans', sans-serif")
    .attr("font-size", "21px").attr("fill", "#222").call(squeeze, 0.72);

// ---- chart (b): Robinson map ----
var mapCenterX = 291.6, mapCenterY = 563, mapDegX = 1.93, mapDepth = 176;
var lengthScale = d3.scaleLinear().domain(robLat).range(robLength);
var depthScale = d3.scaleLinear().domain(robLat).range(robDepth);
var robinson = d3.geoTransform({
    point: function (lon, lat) {
        var a = Math.abs(lat);
        this.stream.point(mapCenterX + mapDegX * lon * lengthScale(a),
            mapCenterY - (lat < 0 ? -1 : 1) * mapDepth * depthScale(a));
    }
});
var mapPath = d3.geoPath(robinson);
var color = d3.scaleOrdinal().domain(d3.range(binColors.length)).range(binColors);

var closeRing = function (r) { return r.concat([r[0]]); };
var features = americas.concat(europe, asia, africa).map(function (c) {
    return {
        type: "Feature",
        properties: { name: c[0], bin: c[1] },
        geometry: { type: "MultiPolygon", coordinates: c[2].map(function (r) { return [closeRing(r)]; }) }
    };
});

svg.append("g").selectAll("path")
    .data(features)
    .enter()
    .append("path")
    .attr("d", mapPath)
    .attr("fill", function (d) { return d.properties.bin < 0 ? noDataColor : color(d.properties.bin); })
    .attr("stroke", "#555")
    .attr("stroke-opacity", 0.25)
    .attr("stroke-width", 0.4);

// legend
var legendX = d3.scalePoint().domain(legendBreaks).range([122, 616]);
var legendTop = 721, legendHeight = 11;
svg.append("rect").attr("x", 71).attr("y", legendTop).attr("width", 39).attr("height", legendHeight)
    .attr("fill", noDataColor).attr("stroke", "#ddd").attr("stroke-width", 0.6);
svg.append("text").text("No data").attr("x", 90).attr("y", 719).attr("text-anchor", "middle")
    .attr("font-size", "11.5px").attr("fill", "#444").call(squeeze, 0.93);
svg.append("g").selectAll("rect")
    .data(binColors)
    .enter()
    .append("rect")
    .attr("x", function (d, i) { return legendX(legendBreaks[i]); })
    .attr("y", legendTop)
    .attr("width", legendX.step())
    .attr("height", legendHeight)
    .attr("fill", function (d) { return d; })
    .attr("stroke", "#ccc")
    .attr("stroke-width", 0.4);
svg.append("g").selectAll("text")
    .data(legendBreaks)
    .enter()
    .append("text")
    .text(function (d) { return d; })
    .attr("x", function (d) { return legendX(d); })
    .attr("y", 719)
    .attr("text-anchor", "middle")
    .attr("font-size", "11.5px")
    .attr("fill", "#444")
    .call(squeeze, 0.93);

svg.append("text").text(sourceText).attr("x", 3).attr("y", 757)
    .attr("font-size", "10.4px").attr("fill", "#999").call(squeeze, 0.95);
svg.append("text").text("CC BY").attr("x", 684).attr("y", 757).attr("text-anchor", "end")
    .attr("font-size", "10.4px").attr("fill", "#999");
svg.append("text").text("(b)").attr("x", 325).attr("y", 779).attr("text-anchor", "middle")
    .style("font-family", "'Liberation Sans', sans-serif")
    .attr("font-size", "21px").attr("fill", "#222").call(squeeze, 0.72);
</script>
</body>
</html>
